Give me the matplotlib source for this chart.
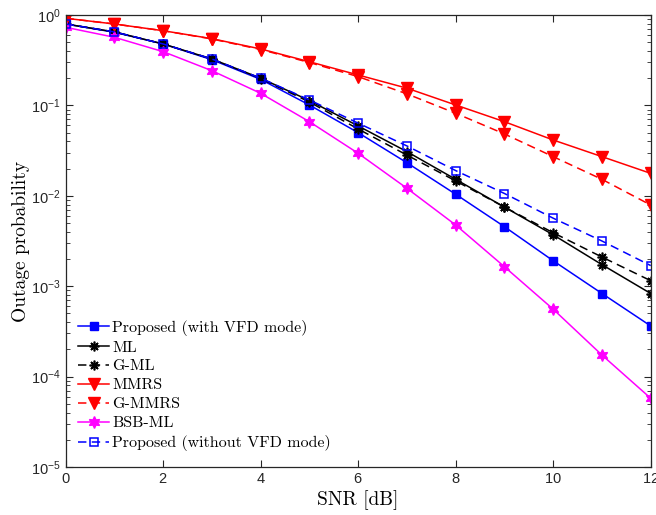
import matplotlib
matplotlib.use("Agg")
import matplotlib.pyplot as plt
from matplotlib.ticker import LogLocator, NullFormatter

snr = [0, 1, 2, 3, 4, 5, 6, 7, 8, 9, 10, 11, 12]

proposed_vfd = [0.795, 0.644, 0.478, 0.32, 0.194, 0.101, 0.0499, 0.0232, 0.0104,
                0.00455, 0.00191, 0.00083, 0.000363]
ml = [0.795, 0.65, 0.478, 0.326, 0.20, 0.113, 0.0592, 0.0308, 0.0152,
      0.0075, 0.0037, 0.00173, 0.00083]
g_ml = [0.795, 0.65, 0.478, 0.326, 0.198, 0.109, 0.0548, 0.0282, 0.0146,
        0.0075, 0.0039, 0.0021, 0.00115]
mmrs = [0.92, 0.795, 0.67, 0.547, 0.421, 0.304, 0.217, 0.155, 0.101,
        0.066, 0.0414, 0.0271, 0.0177]
g_mmrs = [0.92, 0.795, 0.67, 0.543, 0.415, 0.298, 0.208, 0.134, 0.0818,
          0.0483, 0.0271, 0.0152, 0.0079]
bsb_ml = [0.731, 0.567, 0.393, 0.242, 0.136, 0.066, 0.0295, 0.0121, 0.00475,
          0.00164, 0.000556, 0.000173, 5.75e-5]
proposed_novfd = [0.795, 0.65, 0.478, 0.326, 0.20, 0.115, 0.0636, 0.0356, 0.0190,
                  0.0106, 0.00565, 0.00316, 0.00169]

labels = ["Proposed (with VFD mode)", "ML", "G-ML", "MMRS", "G-MMRS",
          "BSB-ML", "Proposed (without VFD mode)"]

serif = ["cmr10", "DejaVu Serif"]
plt.rcParams["font.family"] = ["Liberation Sans", "DejaVu Sans"]
plt.rcParams["axes.formatter.use_mathtext"] = True

axcol = (0.15, 0.15, 0.15)
dash = (0, (5.5, 3.5))

fig = plt.figure(figsize=(6.56, 5.15), dpi=100)
ax = fig.add_axes([0.100, 0.0932, 0.892, 0.8777])

lw = 1.1
ax.plot(snr, proposed_vfd, color="blue", lw=lw, marker="s", ms=6, label=labels[0])
ax.plot(snr, ml, color="black", lw=lw, marker=(8, 2, 0), ms=7, mew=1.2, label=labels[1])
ax.plot(snr, g_ml, color="black", lw=lw, ls=dash, marker=(8, 2, 0), ms=7, mew=1.2, label=labels[2])
ax.plot(snr, mmrs, color="red", lw=lw, marker="v", ms=8, label=labels[3])
ax.plot(snr, g_mmrs, color="red", lw=lw, ls=dash, marker="v", ms=8, label=labels[4])
ax.plot(snr, bsb_ml, color="magenta", lw=lw, marker=(6, 1, 0), ms=8.5, label=labels[5])
ax.plot(snr, proposed_novfd, color="blue", lw=lw, ls=dash, marker="s", ms=6,
        mfc="none", mew=1.1, label=labels[6])

ax.set_yscale("log")
ax.set_xlim(0, 12)
ax.set_ylim(1e-5, 1)
ax.set_xticks([0, 2, 4, 6, 8, 10, 12])
ax.yaxis.set_major_locator(LogLocator(base=10, numticks=10))
ax.yaxis.set_minor_locator(LogLocator(base=10, subs=range(2, 10), numticks=20))
ax.yaxis.set_minor_formatter(NullFormatter())

for s in ax.spines.values():
    s.set_color(axcol)
    s.set_linewidth(0.9)
ax.tick_params(which="both", direction="in", top=True, right=True, colors=axcol,
               labelsize=10.5, labelcolor=axcol)
ax.tick_params(which="major", length=5)
ax.tick_params(which="minor", length=3)

ax.set_xlabel("SNR [dB]", family=serif, fontsize=14, labelpad=3)
ax.set_ylabel("Outage probability", family=serif, fontsize=14, labelpad=1)

leg = ax.legend(loc="lower left", bbox_to_anchor=(0.022, 0.035), frameon=False,
                prop={"family": serif, "size": 11.5}, handlelength=1.9,
                handletextpad=0.2, labelspacing=0.3, borderpad=0, borderaxespad=0)

fig.savefig("out.png", dpi=100)
